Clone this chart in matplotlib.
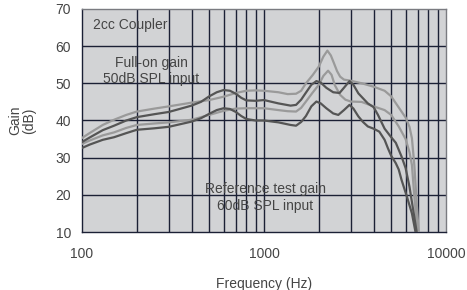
import matplotlib
matplotlib.use("Agg")
import matplotlib.pyplot as plt
from matplotlib.ticker import FixedLocator, NullFormatter

# Full-on gain, light curve
full_light_f = [100, 110, 130, 150, 175, 200, 250, 300, 400, 500, 600, 700, 800, 900, 1000,
                1200, 1350, 1500, 1600, 1700, 1850, 2000, 2120, 2230, 2330, 2420, 2520, 2620,
                2750, 3000, 3450, 4000, 4600, 5000, 5500, 6000, 6300, 6500, 6700, 6900, 7080]
full_light_g = [35.3, 36.6, 38.8, 40.2, 41.5, 42.4, 43.2, 43.8, 44.8, 45.5, 46.4, 47.4, 48.0, 48.1, 48.0,
                47.6, 47.1, 47.2, 48.0, 50.0, 52.2, 54.5, 57.2, 58.8, 57.5, 55.5, 53.3, 51.8,
                51.0, 50.7, 50.0, 49.1, 48.0, 46.5, 43.5, 40.8, 38.3, 35.2, 28.0, 18.0, 10.0]

# Full-on gain, dark curve
full_dark_f = [100, 110, 130, 150, 175, 200, 250, 300, 400, 450, 500, 550, 600, 650, 700, 750, 800,
               900, 1000, 1200, 1400, 1500, 1600, 1700, 1820, 1940, 2050, 2200, 2400, 2600, 2750,
               2950, 3100, 3300, 3720, 4000, 4230, 4600, 5000, 5300, 5700, 6000, 6300, 6600, 6900]
full_dark_g = [34.2, 35.4, 37.4, 38.6, 40.0, 40.9, 41.7, 42.3, 44.0, 45.0, 46.5, 47.6, 48.2, 48.0, 47.2, 46.1, 45.4,
               45.3, 45.5, 44.6, 44.0, 44.2, 45.6, 47.5, 49.6, 50.6, 50.2, 48.8, 47.6, 47.4, 48.8,
               50.6, 49.6, 47.3, 44.6, 43.6, 41.5, 37.8, 35.5, 34.0, 30.3, 27.2, 22.2, 16.0, 10.0]

# Reference test gain, light curve
ref_light_f = [100, 110, 130, 150, 175, 200, 250, 300, 400, 500, 600, 700, 800, 1000, 1200, 1350,
               1500, 1600, 1700, 1850, 2000, 2120, 2250, 2350, 2450, 2620, 2800, 3000, 3440, 4000,
               4600, 5000, 5500, 6000, 6300, 6500, 6700, 6850, 6980]
ref_light_g = [33.7, 34.6, 36.0, 36.8, 38.0, 38.8, 39.2, 39.5, 40.2, 41.5, 42.6, 43.2, 43.3, 43.3, 42.8, 42.5,
               42.4, 43.4, 45.1, 47.5, 49.6, 52.0, 53.4, 52.3, 49.5, 46.9, 45.6, 45.1, 45.0, 43.8,
               42.8, 41.5, 38.4, 35.0, 31.5, 28.0, 19.5, 14.0, 10.0]

# Reference test gain, dark curve
ref_dark_f = [100, 110, 130, 150, 175, 200, 250, 300, 400, 450, 500, 550, 600, 650, 700, 750, 800,
              900, 1000, 1200, 1400, 1500, 1600, 1700, 1820, 1940, 2050, 2200, 2400, 2560, 2750,
              2950, 3100, 3300, 3500, 3720, 4000, 4300, 4600, 4800, 5000, 5300, 5500, 5700, 6100,
              6500, 6800]
ref_dark_g = [32.6, 33.5, 34.8, 35.5, 36.6, 37.5, 37.9, 38.3, 39.7, 40.6, 41.8, 42.8, 43.3, 43.1, 42.3, 41.2, 40.4,
              40.0, 40.0, 39.5, 38.8, 38.6, 39.6, 41.2, 43.8, 45.1, 44.6, 43.3, 41.9, 41.5, 42.8,
              44.2, 43.2, 41.1, 39.6, 38.4, 37.8, 37.0, 34.8, 32.5, 30.5, 28.5, 26.8, 24.0, 19.5,
              15.0, 10.0]

x_ticks = [100, 1000, 10000]
x_tick_labels = ["100", "1000", "10000"]
x_grid = [200, 300, 400, 500, 600, 700, 800, 900, 1000,
          2000, 3000, 4000, 5000, 6000, 7000, 8000, 9000]
y_ticks = [10, 20, 30, 40, 50, 60, 70]

plt.rcParams['font.family'] = ['Liberation Sans', 'DejaVu Sans']
text_col = '#454545'
grid_col = '#1b2035'
dark = '#555555'
light = '#9a9a9a'
fs = 10

fig = plt.figure(figsize=(4.67, 2.90), dpi=100)
ax = fig.add_axes([0.1756, 0.2, 0.7794, 0.769])
ax.set_facecolor('#d2d3d5')

ax.set_xscale('log')
ax.set_xlim(100, 10000)
ax.set_ylim(10, 70)

for f in x_grid:
    ax.axvline(f, color=grid_col, lw=1.0, zorder=1)
for g in y_ticks[1:-1]:
    ax.axhline(g, color=grid_col, lw=1.0, zorder=1)

ax.plot(full_light_f, full_light_g, color=light, lw=1.6, zorder=3, solid_joinstyle='round')
ax.plot(ref_light_f, ref_light_g, color=light, lw=1.6, zorder=3, solid_joinstyle='round')
ax.plot(full_dark_f, full_dark_g, color=dark, lw=1.6, zorder=4, solid_joinstyle='round')
ax.plot(ref_dark_f, ref_dark_g, color=dark, lw=1.6, zorder=4, solid_joinstyle='round')

ax.xaxis.set_major_locator(FixedLocator(x_ticks))
ax.set_xticklabels(x_tick_labels)
ax.xaxis.set_minor_formatter(NullFormatter())
ax.xaxis.set_minor_locator(FixedLocator([]))
ax.set_yticks(y_ticks)
ax.tick_params(axis='both', length=0, labelsize=fs, labelcolor=text_col)
ax.tick_params(axis='x', pad=11)
ax.tick_params(axis='y', pad=8)

for s in ['left', 'bottom']:
    ax.spines[s].set_color(grid_col)
    ax.spines[s].set_linewidth(1.0)
for s in ['top', 'right']:
    ax.spines[s].set_color('#7a7b80')
    ax.spines[s].set_linewidth(1.0)

ax.set_xlabel('Frequency (Hz)', fontsize=fs, color=text_col, labelpad=11)
ax.set_ylabel('Gain\n(dB)', fontsize=fs, color=text_col, labelpad=14, linespacing=1.0)

ax.text(0.029, 0.93, '2cc Coupler', transform=ax.transAxes, fontsize=fs,
        color=text_col, va='center', ha='left', zorder=5)
ax.text(0.19, 0.722, 'Full-on gain\n50dB SPL input', transform=ax.transAxes, fontsize=fs,
        color=text_col, va='center', ha='center', linespacing=1.25, zorder=5)
ax.text(0.503, 0.155, 'Reference test gain\n60dB SPL input', transform=ax.transAxes,
        fontsize=fs, color=text_col, va='center', ha='center', linespacing=1.25, zorder=5)

fig.savefig('out.png', dpi=100)
